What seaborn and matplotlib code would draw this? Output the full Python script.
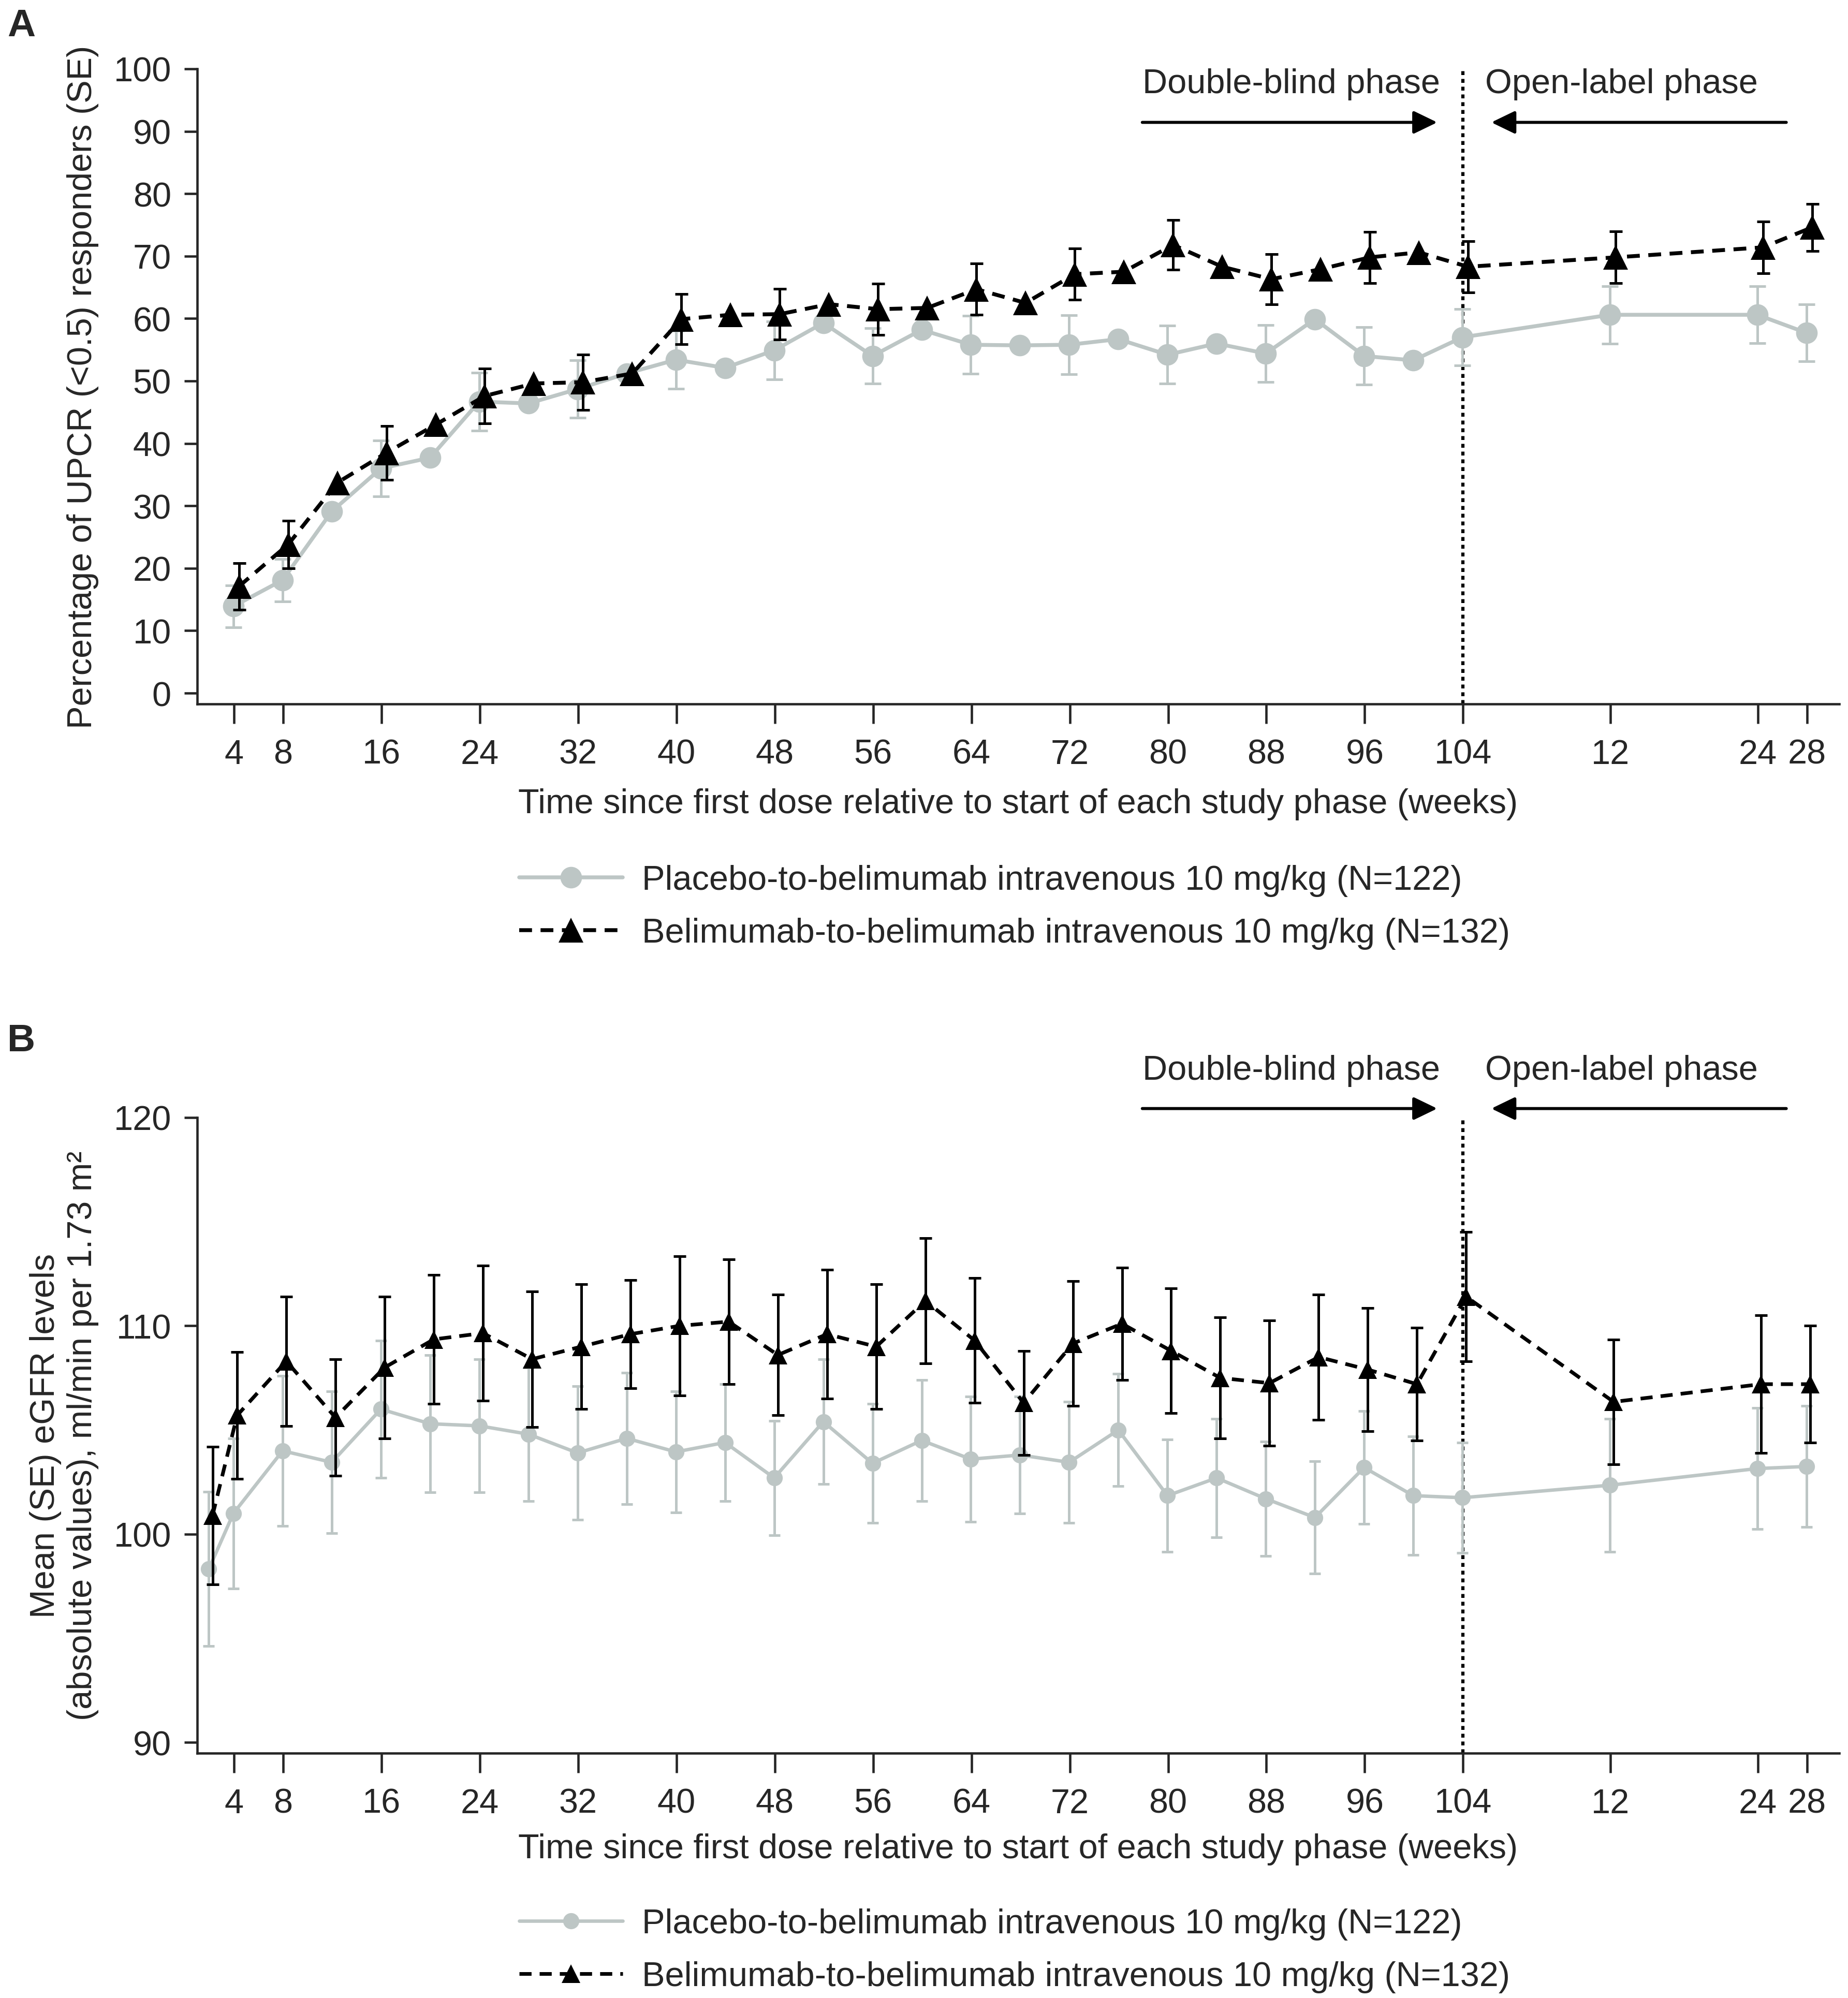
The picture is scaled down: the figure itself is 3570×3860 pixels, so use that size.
import numpy as np
import pandas as pd
import seaborn as sns
import matplotlib.pyplot as plt
from matplotlib.transforms import blended_transform_factory

# ── Data ─────────────────────────────────────────────────────────────
DB_END = 104  # end of double-blind phase; open-label weeks are plotted after it

# Panel A: UPCR (<0.5) responders, %
A_DB_WEEKS = [4, 8, 12, 16, 20, 24, 28, 32, 36, 40, 44, 48, 52, 56, 60,
              64, 68, 72, 76, 80, 84, 88, 92, 96, 100, 104]
A_OL_WEEKS = [12, 24, 28]
A_PBO = [13.9, 18.1, 29.1, 36.0, 37.7, 46.7, 46.4, 48.7, 51.2, 53.4, 52.1,
         54.9, 59.3, 54.0, 58.2, 55.8, 55.7, 55.8, 56.7, 54.2, 56.0, 54.4,
         59.9, 54.0, 53.3, 57.0, 60.6, 60.6, 57.7]
A_PBO_SE = [3.35, 3.4, None, 4.45, None, 4.65, None, 4.6, None, 4.65, None,
            4.65, None, 4.45, None, 4.65, None, 4.75, None, 4.65, None, 4.55,
            None, 4.6, None, 4.55, 4.6, 4.55, 4.55]
A_BEL = [17.1, 23.8, 33.7, 38.5, 43.0, 47.6, 49.6, 49.8, 51.2, 59.9, 60.6,
         60.7, 62.3, 61.5, 61.7, 64.7, 62.5, 67.1, 67.5, 71.8, 68.3, 66.3,
         67.9, 69.8, 70.6, 68.3, 69.8, 71.4, 74.6]
A_BEL_SE = [3.75, 3.85, None, 4.3, None, 4.4, None, 4.45, None, 4.05, None,
            4.05, None, 4.1, None, 4.1, None, 4.1, None, 4.0, None, 4.05,
            None, 4.1, None, 4.1, 4.15, 4.15, 3.75]

# Panel B: eGFR, ml/min per 1.73 m2
B_DB_WEEKS = [2, 4, 8, 12, 16, 20, 24, 28, 32, 36, 40, 44, 48, 52, 56, 60,
              64, 68, 72, 76, 80, 84, 88, 92, 96, 100, 104]
B_OL_WEEKS = [12, 24, 28]
B_PBO = [98.33, 101.0, 104.0, 103.45, 106.0, 105.3, 105.2, 104.8, 103.9,
         104.6, 103.95, 104.4, 102.7, 105.4, 103.4, 104.5, 103.6, 103.8,
         103.45, 105.0, 101.85, 102.7, 101.7, 100.8, 103.2, 101.85, 101.75,
         102.35, 103.15, 103.25]
B_PBO_SE = [3.7, 3.6, 3.6, 3.4, 3.3, 3.3, 3.2, 3.2, 3.2, 3.15, 2.9, 2.8,
            2.75, 3.0, 2.85, 2.9, 3.0, 2.8, 2.9, 2.7, 2.7, 2.85, 2.75, 2.7,
            2.7, 2.85, 2.65, 3.2, 2.9, 2.9]
B_BEL = [100.9, 105.7, 108.3, 105.6, 108.0, 109.35, 109.65, 108.4, 109.0,
         109.6, 110.0, 110.2, 108.6, 109.6, 109.0, 111.2, 109.3, 106.3,
         109.15, 110.1, 108.8, 107.5, 107.25, 108.5, 107.9, 107.2, 111.4,
         106.35, 107.2, 107.2]
B_BEL_SE = [3.3, 3.05, 3.1, 2.8, 3.4, 3.1, 3.25, 3.25, 3.0, 2.6, 3.35, 3.0,
            2.9, 3.1, 3.0, 3.0, 3.0, 2.5, 3.0, 2.7, 3.0, 2.9, 3.0, 3.0, 2.95,
            2.7, 3.1, 3.0, 3.3, 2.8]

TICK_DB = [4, 8, 16, 24, 32, 40, 48, 56, 64, 72, 80, 88, 96, 104]
TICK_OL = [12, 24, 28]

LABEL_PBO = 'Placebo-to-belimumab intravenous 10 mg/kg (N=122)'
LABEL_BEL = 'Belimumab-to-belimumab intravenous 10 mg/kg (N=132)'
XLABEL = 'Time since first dose relative to start of each study phase (weeks)'
YLABEL_A = 'Percentage of UPCR (<0.5) responders (SE)'
YLABEL_B = 'Mean (SE) eGFR levels\n(absolute values), ml/min per 1.73 m\u00b2'

GREY = '#bdc6c5'
FS = 16


def positions(db_weeks, ol_weeks):
    return list(db_weeks) + [DB_END + w for w in ol_weeks]


def draw_series(ax, x, y, se, color, marker, ms, lw, ls, capsize, z):
    df = pd.DataFrame({'x': x, 'y': y,
                       'se': [np.nan if s is None else s for s in se]})
    bars = df.dropna(subset=['se'])
    ax.errorbar(bars['x'], bars['y'], yerr=bars['se'], fmt='none',
                ecolor=color, elinewidth=1.2, capsize=capsize,
                capthick=1.2, zorder=z)
    sns.lineplot(data=df, x='x', y='y', ax=ax, color=color, marker=marker,
                 markersize=ms, markeredgewidth=0, markeredgecolor=color,
                 linewidth=lw, linestyle=ls, errorbar=None, zorder=z + 1)
    return ax.lines[-1]


def style_axis(ax, ylim, yticks, ylabel, xlabel_y):
    ax.set_xlim(1.0, 134.6)
    ax.set_ylim(*ylim)
    ax.set_yticks(yticks)
    ax.set_xticks(positions(TICK_DB, TICK_OL))
    ax.set_xticklabels([str(t) for t in TICK_DB + TICK_OL])
    ax.tick_params(axis='x', length=9, width=1.1, pad=7, labelsize=FS)
    ax.tick_params(axis='y', length=6, width=1.1, pad=6, labelsize=FS)
    for side in ['top', 'right']:
        ax.spines[side].set_visible(False)
    for side in ['left', 'bottom']:
        ax.spines[side].set_linewidth(1.1)
    ax.set_xlabel(XLABEL, fontsize=FS)
    ax.set_ylabel(ylabel, fontsize=FS)
    ax.xaxis.set_label_coords(0.5, xlabel_y)
    ax.yaxis.set_label_coords(-0.060, 0.5)
    ax.axvline(DB_END, color='black', lw=1.5, linestyle=(0, (1.2, 1.2)),
               zorder=1)


def phase_labels(ax, y_arrow, y_text):
    tr = blended_transform_factory(ax.transData, ax.transAxes)
    head = dict(arrowstyle='-|>,head_length=0.93,head_width=0.45',
                mutation_scale=10, lw=1.4, color='black',
                shrinkA=0, shrinkB=0)
    ax.annotate('', xy=(101.9, y_arrow), xytext=(77.9, y_arrow),
                xycoords=tr, textcoords=tr, arrowprops=head,
                annotation_clip=False)
    ax.annotate('', xy=(106.3, y_arrow), xytext=(130.3, y_arrow),
                xycoords=tr, textcoords=tr, arrowprops=head,
                annotation_clip=False)
    ax.text(77.9, y_text, 'Double-blind phase', transform=tr, ha='left',
            va='center', fontsize=FS, clip_on=False)
    ax.text(105.8, y_text, 'Open-label phase', transform=tr, ha='left',
            va='center', fontsize=FS, clip_on=False)


sns.set_theme(style='ticks')
plt.rcParams['font.family'] = ['Liberation Sans', 'DejaVu Sans']

fig = plt.figure(figsize=(11.9, 12.87), dpi=300)
ax_a = fig.add_axes([0.1067, 0.6475, 0.8885, 0.3178])
ax_b = fig.add_axes([0.1067, 0.1225, 0.8885, 0.3181])

# ── Panel A ──────────────────────────────────────────────────────────
xa = positions(A_DB_WEEKS, A_OL_WEEKS)
pbo_a = draw_series(ax_a, [v - 0.05 for v in xa], A_PBO, A_PBO_SE, GREY,
                    'o', 10, 1.8, '-', 3.8, 2)
bel_a = draw_series(ax_a, [v + 0.4 for v in xa], A_BEL, A_BEL_SE, 'black',
                    '^', 11.5, 1.8, (0, (3.3, 2.2)), 3.0, 4)
style_axis(ax_a, (-1.74, 100), range(0, 101, 10), YLABEL_A, -0.132)
phase_labels(ax_a, 0.9157, 0.976)

fig.legend([pbo_a, bel_a], [LABEL_PBO, LABEL_BEL], loc='center',
           bbox_to_anchor=(0.549, 0.546), frameon=False, fontsize=FS,
           handlelength=3.0, handletextpad=0.55, labelspacing=0.6)

# ── Panel B ──────────────────────────────────────────────────────────
xb = positions(B_DB_WEEKS, B_OL_WEEKS)
pbo_b = draw_series(ax_b, [v - 0.05 for v in xb], B_PBO, B_PBO_SE, GREY,
                    'o', 7.5, 1.6, '-', 2.6, 2)
bel_b = draw_series(ax_b, [v + 0.25 for v in xb], B_BEL, B_BEL_SE, 'black',
                    '^', 8.5, 1.7, (0, (3.3, 2.2)), 2.8, 4)
style_axis(ax_b, (89.49, 120), [90, 100, 110, 120], YLABEL_B, -0.1254)
phase_labels(ax_b, 1.014, 1.074)

fig.legend([pbo_b, bel_b], [LABEL_PBO, LABEL_BEL], loc='center',
           bbox_to_anchor=(0.549, 0.0238), frameon=False, fontsize=FS,
           handlelength=3.0, handletextpad=0.55, labelspacing=0.6)

fig.text(0.004, 0.987, 'A', fontsize=18, fontweight='bold', va='center')
fig.text(0.004, 0.479, 'B', fontsize=18, fontweight='bold', va='center')

fig.savefig('out.png', dpi=300)
plt.close(fig)
